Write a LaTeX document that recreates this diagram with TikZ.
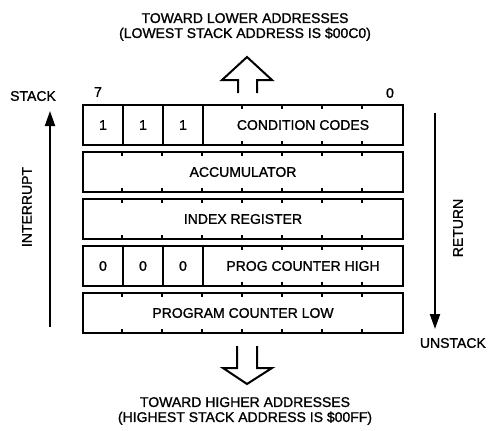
\documentclass[tikz,border=0pt]{standalone}
\usepackage{fontspec}
\setmainfont{Liberation Sans}[BoldFont=Liberation Sans,BoldFeatures={FakeBold=1.2}]
\usetikzlibrary{arrows.meta}

\begin{document}
\begin{tikzpicture}
[   x=1pt,y=-1pt,
    every node/.style={font=\fontsize{14}{15}\selectfont\bfseries,inner sep=0pt},
    reg/.style={draw=black,line width=2pt,minimum height=40pt,minimum width=#1},
    cell/.style={draw=black,line width=1.1pt,minimum height=40pt,minimum width=40pt},
    tick/.style={line width=1.1pt},
    flow/.style={line width=2pt,-{Triangle[length=15pt,width=10pt]}},
    hollow/.style={line width=2pt,line join=miter},
]
    \useasboundingbox (0,0) rectangle (488,431);
    % stack frame, top row first
    \foreach \v [count=\i] in {1,1,1}
        \node[cell] (c-\i) at ({63+40*\i},125) {\v};
    \node[reg=200pt] (ccr) at (303,125) {CONDITION CODES};
    \node[reg=320pt] (acc) at (243,172) {ACCUMULATOR};
    \node[reg=320pt] (ix) at (243,219) {INDEX REGISTER};
    \foreach \v [count=\i] in {0,0,0}
        \node[cell] (z-\i) at ({63+40*\i},266) {\v};
    \node[reg=200pt] (pch) at (303,266) {PROG COUNTER HIGH};
    \node[reg=320pt] (pcl) at (243,313) {PROGRAM COUNTER LOW};
    % bit ticks
    \foreach \r in {ccr,pch}
    {   \foreach \i in {1,...,4}
        {   \draw[tick] ([xshift=\i*40pt]\r.north west) -- ++(0,5);
            \draw[tick] ([xshift=\i*40pt]\r.south west) -- ++(0,-5);
        }
    }
    \foreach \r in {acc,ix,pcl}
    {   \foreach \i in {1,...,7}
        {   \draw[tick] ([xshift=\i*40pt]\r.north west) -- ++(0,5);
            \draw[tick] ([xshift=\i*40pt]\r.south west) -- ++(0,-5);
        }
    }
    \node (b7) at (98,92) {7};
    \node (b0) at (390,93) {0};
    % interrupt / return
    \node (stk) at (33,96) {STACK};
    \node[rotate=90] (intr) at (27,207) {INTERRUPT};
    \coordinate (int-a) at (50,327);
    \coordinate (int-b) at (50,111);
    \draw[flow] (int-a) -- (int-b);
    \node[rotate=90] (ret) at (458,228) {RETURN};
    \node[anchor=east] (unstk) at (486,343) {UNSTACK};
    \coordinate (ret-a) at (435,113);
    \coordinate (ret-b) at (435,329);
    \draw[flow] (ret-a) -- (ret-b);
    % address directions
    \node[align=center] (lo) at (245,27) {TOWARD LOWER ADDRESSES\\(LOWEST STACK ADDRESS IS \$00C0)};
    \draw[hollow] (238,93) -- (238,80) -- (222,80) -- (247,57) -- (272,80) -- (257,80) -- (257,93);
    \node[align=center] (hi) at (245,411) {TOWARD HIGHER ADDRESSES\\(HIGHEST STACK ADDRESS IS \$00FF)};
    \draw[hollow] (237,346) -- (237,368) -- (223,368) -- (247,384) -- (272,368) -- (257,368) -- (257,346);
\end{tikzpicture}
\end{document}
